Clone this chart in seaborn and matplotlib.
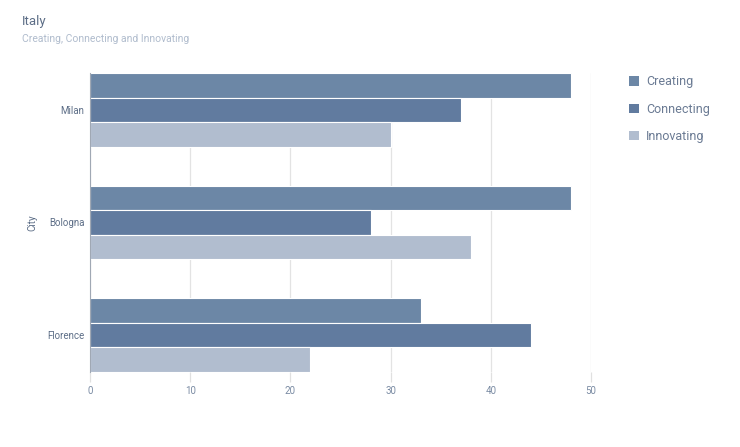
import pandas as pd
import matplotlib.pyplot as plt
import seaborn as sns
from matplotlib.patches import Patch

# data
cities = ['Milan', 'Bologna', 'Florence']
series = ['Creating', 'Connecting', 'Innovating']
creating = [48, 48, 33]
connecting = [37, 28, 44]
innovating = [30, 38, 22]
colors = ['#6c87a6', '#617b9f', '#b1bdcf']

df = pd.DataFrame({
    'City': cities * 3,
    'Series': [s for s in series for _ in cities],
    'Value': creating + connecting + innovating,
})

sns.set_theme(style='white')
plt.rcParams['font.family'] = ['Roboto', 'DejaVu Sans']

fig = plt.figure(figsize=(7.4, 4.47), dpi=100)
ax = fig.add_axes([90 / 740, 1 - 372 / 447, 501 / 740, 299 / 447])

sns.barplot(data=df, y='City', x='Value', hue='Series', order=cities,
            hue_order=series, palette=colors, width=0.655, orient='h',
            edgecolor='white', linewidth=0.8, saturation=1, ax=ax, legend=False)

ax.set_xlim(0, 50)
ax.set_ylim(2.33, -0.33)
ax.set_xticks([0, 10, 20, 30, 40, 50])
ax.grid(axis='x', color='#e3e3e3', linewidth=0.9)
ax.set_axisbelow(True)
for s in ['top', 'right', 'bottom']:
    ax.spines[s].set_visible(False)
ax.spines['left'].set_color('#a0a8b4')
ax.spines['left'].set_linewidth(0.8)

# short tick stubs below the plot, like the grid
ax.tick_params(axis='x', bottom=True, length=7, width=0.9, color='#e0e0e0',
               pad=3, labelsize=7, labelcolor='#7a8ba3')
ax.tick_params(axis='y', length=0, pad=4, labelsize=7, labelcolor='#5d6e87')
ax.set_xlabel('')
ax.set_ylabel('City', fontsize=7, color='#5d6e87', labelpad=7)

fig.text(22 / 740, 1 - 22 / 447, 'Italy', fontsize=9.5, color='#5d6e87', va='center')
fig.text(22 / 740, 1 - 39 / 447, 'Creating, Connecting and Innovating',
         fontsize=7.5, color='#b0bccd', va='center')

handles = [Patch(facecolor=c, edgecolor='none') for c in colors]
fig.legend(handles, series, loc='upper left', bbox_to_anchor=(618 / 740, 1 - 64 / 447),
           frameon=False, fontsize=9, labelcolor='#6a7a93', handlelength=0.8,
           handleheight=0.8, handletextpad=0.55, labelspacing=1.15)

plt.savefig('out.png', dpi=100)
